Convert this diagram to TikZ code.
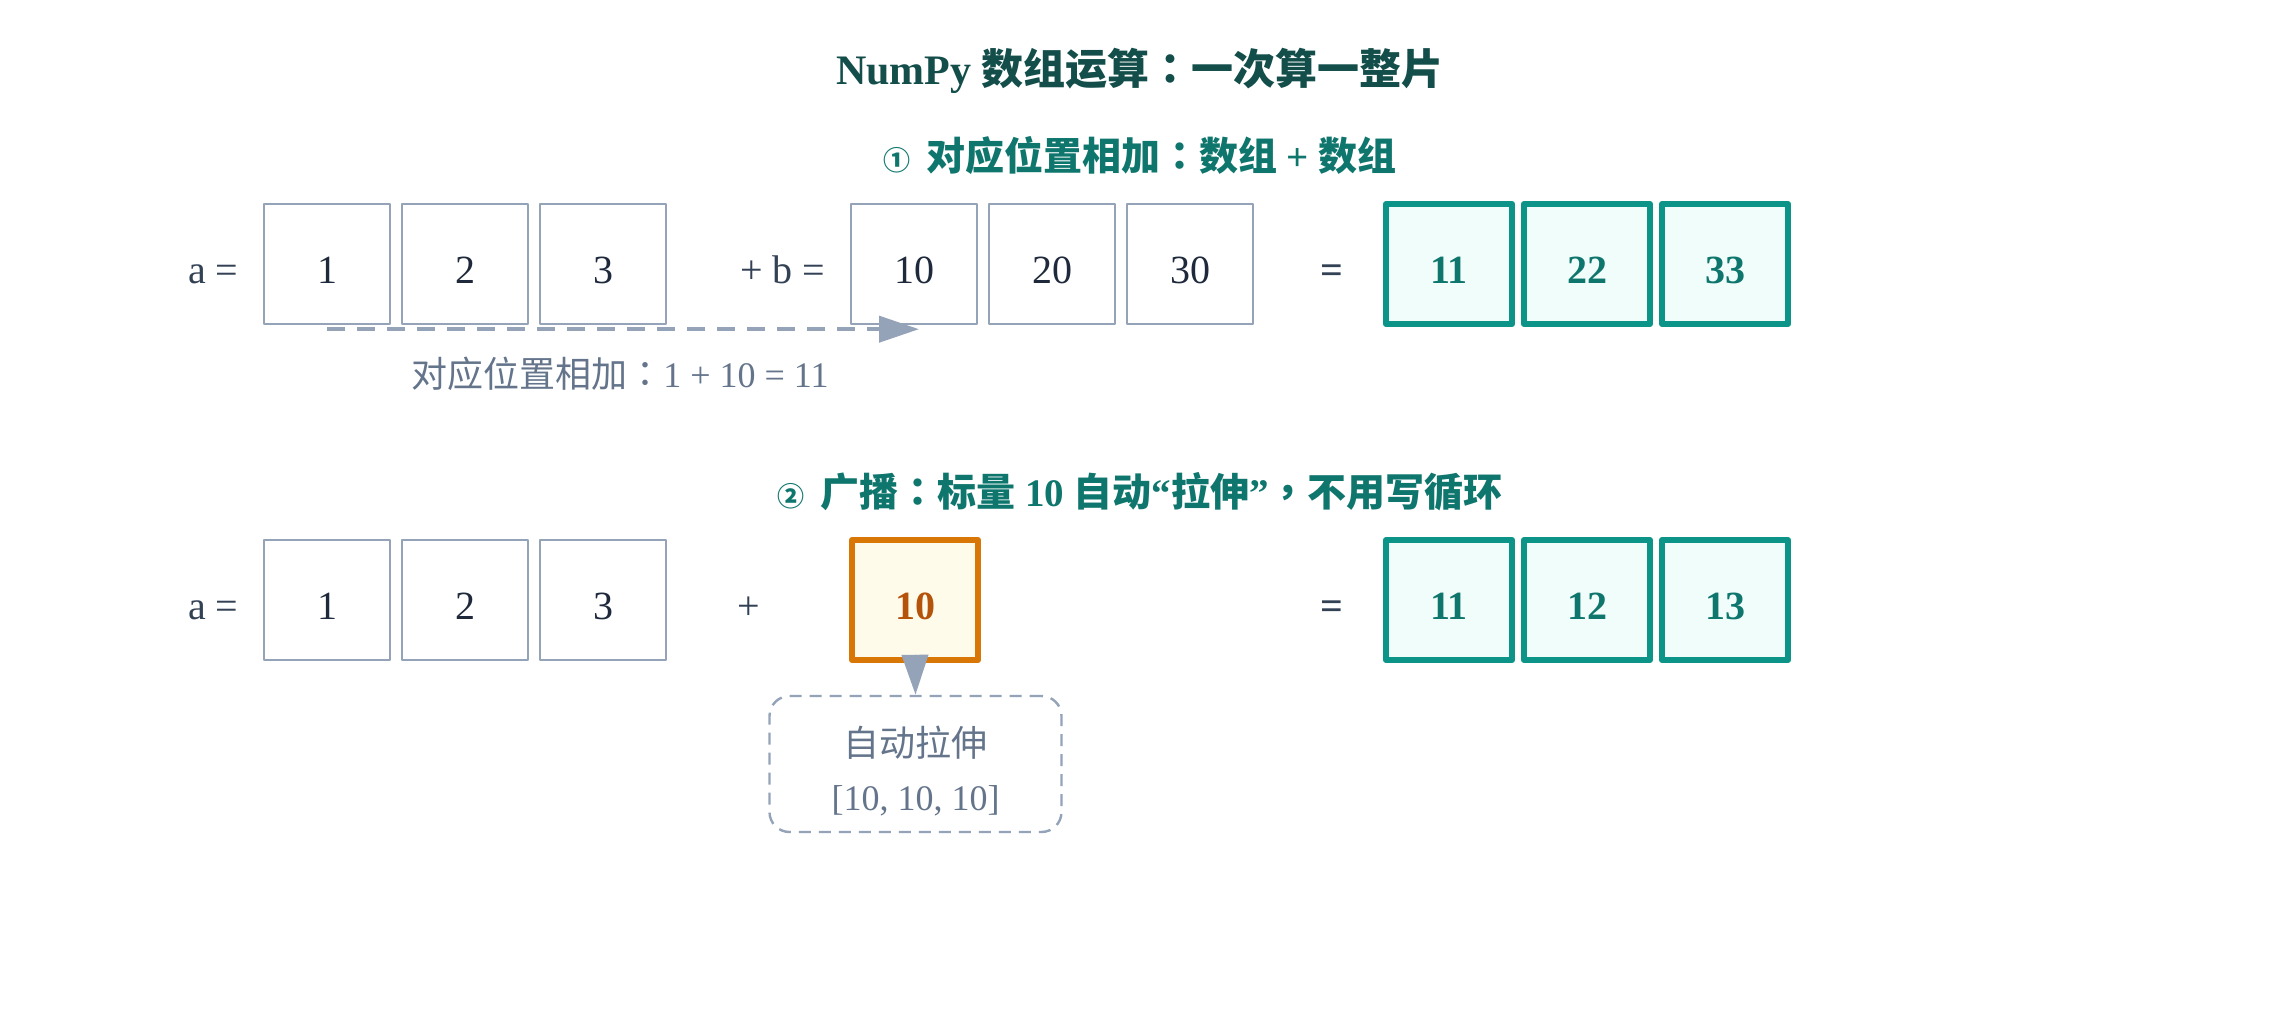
\documentclass[tikz,border=0pt]{standalone}
\usepackage{fontspec}
\setmainfont{Liberation Serif}
\newfontfamily\cjk{Noto Sans CJK SC}
\newfontfamily\cjkt{Noto Sans CJK TC}
\usetikzlibrary{positioning,calc,arrows.meta}
\definecolor{tieude}{HTML}{134E4A}
\definecolor{phude}{HTML}{0F766E}
\definecolor{vien}{HTML}{94A3B8}
\definecolor{chuso}{HTML}{1E293B}
\definecolor{toan}{HTML}{334155}
\definecolor{nhat}{HTML}{64748B}
\definecolor{xanh}{HTML}{0D9488}
\definecolor{xanhnhat}{HTML}{F0FDFA}
\definecolor{cam}{HTML}{D97706}
\definecolor{camnhat}{HTML}{FFFBEB}
\definecolor{camdam}{HTML}{B45309}
\newcommand{\haicham}{{\cjkt ：}}
\newcommand{\sovong}[1]{{\cjk\fontsize{13.5}{16}\selectfont #1}\hspace{8pt}}
\begin{document}
\begin{tikzpicture}[x=1pt, y=-1pt, line join=round, font=\fontsize{20}{24}\selectfont]
			\tikzset{oso/.style={draw=vien, line width=1.2pt, fill=white, minimum width=63pt, minimum height=60pt, inner sep=0pt, text height=19.5pt, text depth=0pt, text=chuso},
				ketqua/.style={oso, draw=xanh, line width=3pt, fill=xanhnhat, text=phude, font=\fontsize{20}{24}\selectfont\bfseries},
				vohuong/.style={oso, draw=cam, line width=3pt, fill=camnhat, text=camdam, font=\fontsize{20}{24}\selectfont\bfseries},
				phep/.style={inner sep=0pt, text height=19.5pt, text depth=0pt, text=toan},
				muiten/.style={draw=vien, line width=2pt, -{Triangle[length=20pt,width=13pt]}},
				hopgian/.style={draw=vien, line width=1.2pt, dash pattern=on 6pt off 4pt, rounded corners=10pt, minimum width=146pt, minimum height=68pt, align=center, text=nhat, font=\fontsize{18}{27}\selectfont}}
			\useasboundingbox (0,0) rectangle (1140,510);
			%Tiêu đề
			\node[text=tieude, font=\fontsize{21}{25}\selectfont\bfseries] (tieude) at (570,35.5) {NumPy {\cjk 数组运算\haicham 一次算一整片}};
			\node[text=phude, font=\fontsize{19.5}{23}\selectfont\bfseries] (phu1) at (570,78) {\sovong{①}{\cjk 对应位置相加\haicham 数组} + {\cjk 数组}};
			\node[text=phude, font=\fontsize{19.5}{23}\selectfont\bfseries] (phu2) at (570,246) {\sovong{②}{\cjk 广播\haicham 标量} 10 {\cjk 自动}“{\cjk 拉伸}”{\cjkt ，}{\cjk 不用写循环}};
			%Hàng 1: mảng + mảng
			\foreach \v [count=\i] in {1,2,3} \node[oso] (a\i) at ({163.5+69*(\i-1)},132) {\v};
			\foreach \v [count=\i] in {10,20,30} \node[oso] (b\i) at ({457+69*(\i-1)},132) {\v};
			\foreach \v [count=\i] in {11,22,33} \node[ketqua] (c\i) at ({724.5+69*(\i-1)},132) {\v};
			\node[phep, left=12pt of a1] (nhana) {a =};
			\node[phep, left=12pt of b1] (nhanb) {+ b =};
			\node[phep, font=\fontsize{20}{24}\selectfont\bfseries] (bang1) at (666,132) {=};
			\draw[muiten, dash pattern=on 9pt off 6pt] ($(a1.south)+(0,2)$) -- ($(b1.south)+(2.5,2)$);
			\node[text=nhat, font=\fontsize{18}{21}\selectfont] (ghichu) at (310,187) {{\cjk 对应位置相加}\haicham 1 + 10 = 11};
			%Hàng 2: phát sóng
			\foreach \v [count=\i] in {1,2,3} \node[oso] (aa\i) at ({163.5+69*(\i-1)},300) {\v};
			\node[vohuong] (k) at (457.5,300) {10};
			\foreach \v [count=\i] in {11,12,13} \node[ketqua] (cc\i) at ({724.5+69*(\i-1)},300) {\v};
			\node[phep, left=12pt of aa1] (nhanaa) {a =};
			\node[phep] (cong2) at (374.5,300) {+};
			\node[phep, font=\fontsize{20}{24}\selectfont\bfseries] (bang2) at (666,300) {=};
			\node[hopgian] (gian) at (457.75,382) {\rule{0pt}{22pt}{\cjk 自动拉伸}\\{}[10, 10, 10]};
			\draw[muiten] ($(k.south)+(0,-4)$) -- (gian.north);
		\end{tikzpicture}
\end{document}
